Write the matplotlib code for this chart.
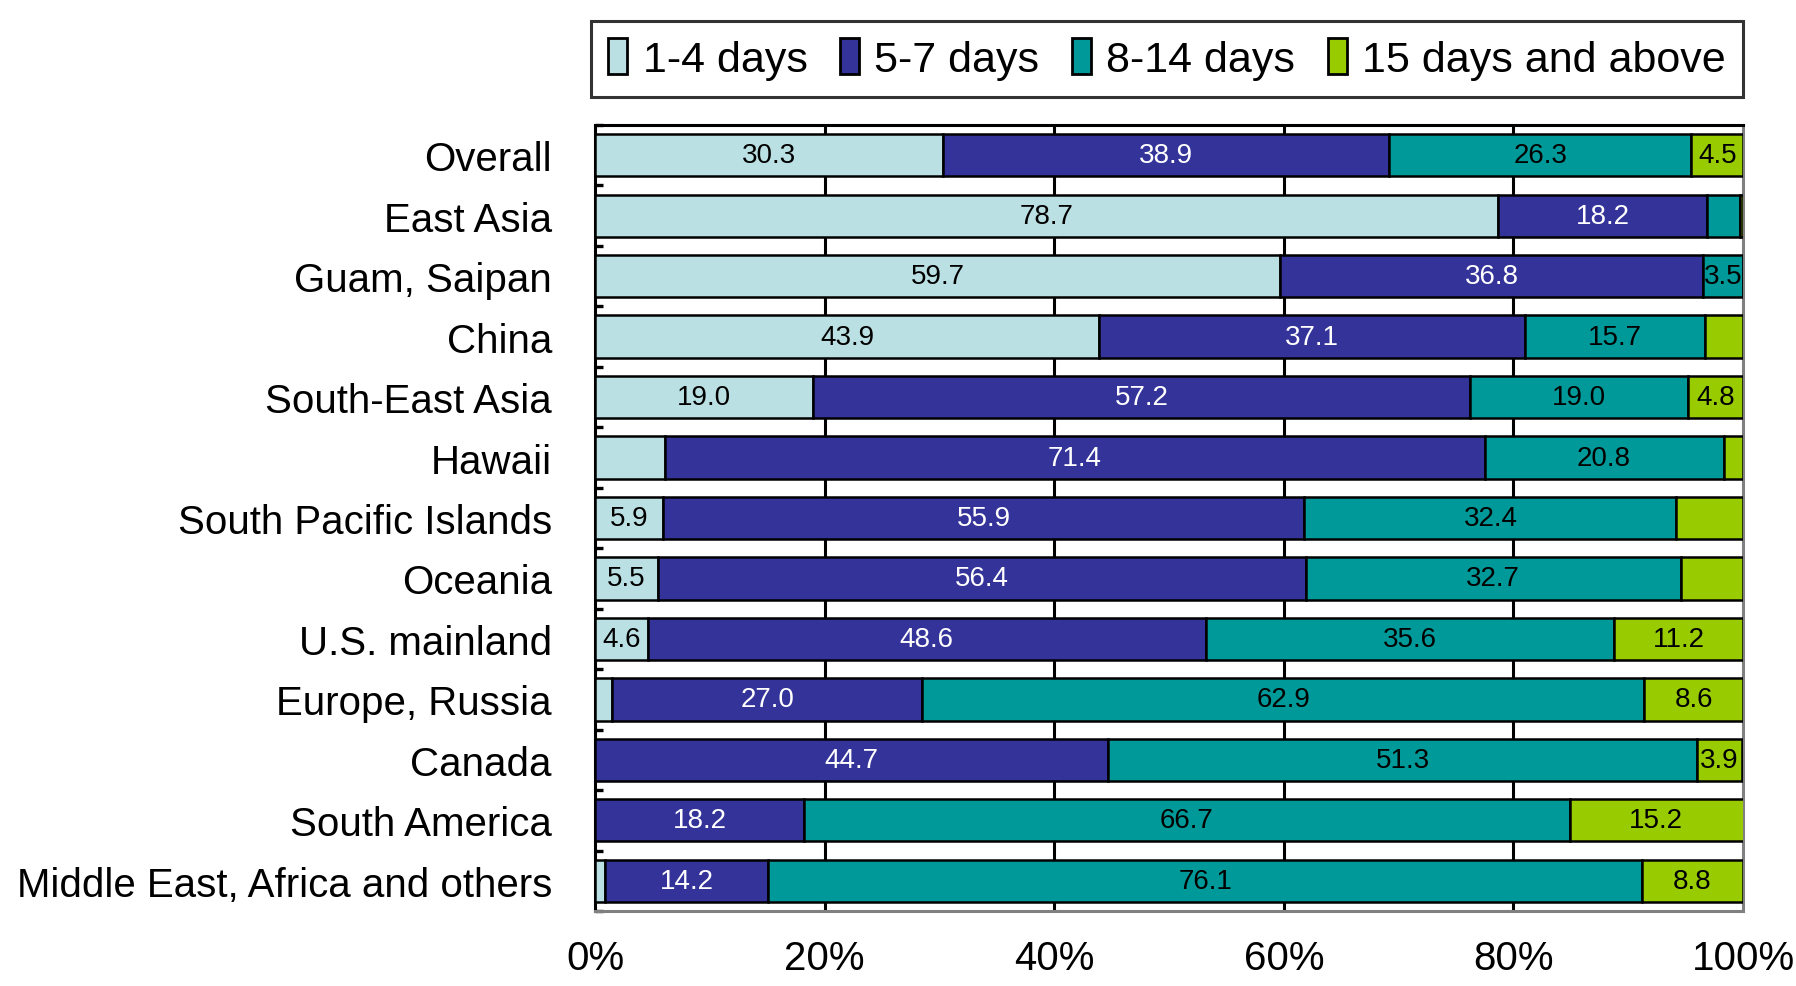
import numpy as np
import matplotlib
matplotlib.use('Agg')
import matplotlib.pyplot as plt
from matplotlib.ticker import FixedLocator, FuncFormatter

plt.rcParams['font.family'] = ['Liberation Sans', 'DejaVu Sans']

# data (percent of travellers per trip length)
categories = ['Overall', 'East Asia', 'Guam, Saipan', 'China', 'South-East Asia',
              'Hawaii', 'South Pacific Islands', 'Oceania', 'U.S. mainland',
              'Europe, Russia', 'Canada', 'South America',
              'Middle East, Africa and others']
series_names = ['1-4 days', '5-7 days', '8-14 days', '15 days and above']

days_1_4 = [30.3, 78.7, 59.7, 43.9, 19.0, 6.1, 5.9, 5.5, 4.6, 1.5, 0.0, 0.0, 0.9]
days_5_7 = [38.9, 18.2, 36.8, 37.1, 57.2, 71.4, 55.9, 56.4, 48.6, 27.0, 44.7, 18.2, 14.2]
days_8_14 = [26.3, 2.8, 3.5, 15.7, 19.0, 20.8, 32.4, 32.7, 35.6, 62.9, 51.3, 66.7, 76.1]
days_15_up = [4.5, 0.3, 0.0, 3.3, 4.8, 1.7, 5.8, 5.4, 11.2, 8.6, 3.9, 15.2, 8.8]

# labels as printed on the chart ('' where the original shows none)
labels_1_4 = ['30.3', '78.7', '59.7', '43.9', '19.0', '', '5.9', '5.5', '4.6', '', '', '', '']
labels_5_7 = ['38.9', '18.2', '36.8', '37.1', '57.2', '71.4', '55.9', '56.4', '48.6',
              '27.0', '44.7', '18.2', '14.2']
labels_8_14 = ['26.3', '', '3.5', '15.7', '19.0', '20.8', '32.4', '32.7', '35.6',
               '62.9', '51.3', '66.7', '76.1']
labels_15_up = ['4.5', '', '', '', '4.8', '', '', '', '11.2', '8.6', '3.9', '15.2', '8.8']

colors = ['#BBE0E3', '#333399', '#009999', '#99CC00']
label_colors = ['black', 'white', 'black', 'black']


def main():
    fig = plt.figure(figsize=(17.96, 9.87), dpi=100)
    ax = fig.add_axes([0.3313, 0.076, 0.6392, 0.7963])

    y = np.arange(len(categories))
    values = [days_1_4, days_5_7, days_8_14, days_15_up]
    labels = [labels_1_4, labels_5_7, labels_8_14, labels_15_up]

    left = np.zeros(len(categories))
    for vals, labs, name, col, lcol in zip(values, labels, series_names, colors, label_colors):
        vals = np.array(vals)
        bars = ax.barh(y, vals, left=left, height=0.7, color=col,
                       edgecolor='black', linewidth=1.8, label=name, zorder=3)
        ax.bar_label(bars, labels=labs, label_type='center', color=lcol,
                     fontsize=20, zorder=4)
        left = left + vals

    ax.set_xlim(0, 100)
    ax.set_ylim(len(categories) - 0.5, -0.5)

    ax.set_xticks([0, 20, 40, 60, 80, 100])
    ax.xaxis.set_major_formatter(FuncFormatter(lambda v, p: f'{v:.0f}%'))
    ax.tick_params(axis='x', length=0, pad=20, labelsize=29)

    ax.set_yticks(y)
    ax.set_yticklabels(categories)
    ax.tick_params(axis='y', which='major', length=0, pad=31, labelsize=29)
    ax.yaxis.set_minor_locator(FixedLocator(np.arange(-0.5, len(categories), 1.0)))
    ax.tick_params(axis='y', which='minor', direction='in', length=6, width=2.4,
                   color='black')

    ax.xaxis.grid(True, color='black', linewidth=2.2, zorder=0)
    ax.set_axisbelow(True)
    gl = ax.get_xgridlines()
    gl[0].set_visible(False)
    gl[-1].set_visible(False)

    for side in ['left', 'top']:
        ax.spines[side].set_color('black')
        ax.spines[side].set_linewidth(2.2)
    for side in ['right', 'bottom']:
        ax.spines[side].set_color('#808080')
        ax.spines[side].set_linewidth(2.2)

    leg = fig.legend(loc='lower left', bbox_to_anchor=(0.329, 0.9007, 0.6415, 0.0892),
                     mode='expand', ncol=4, fontsize=31, frameon=True, fancybox=False,
                     handlelength=0.45, handleheight=0.9, handletextpad=0.35,
                     borderaxespad=0, borderpad=0.4)
    leg.get_frame().set_edgecolor('black')
    leg.get_frame().set_linewidth(2.2)
    for h in leg.legend_handles:
        h.set_linewidth(2.0)

    fig.savefig('out.png', dpi=100)


if __name__ == '__main__':
    main()
